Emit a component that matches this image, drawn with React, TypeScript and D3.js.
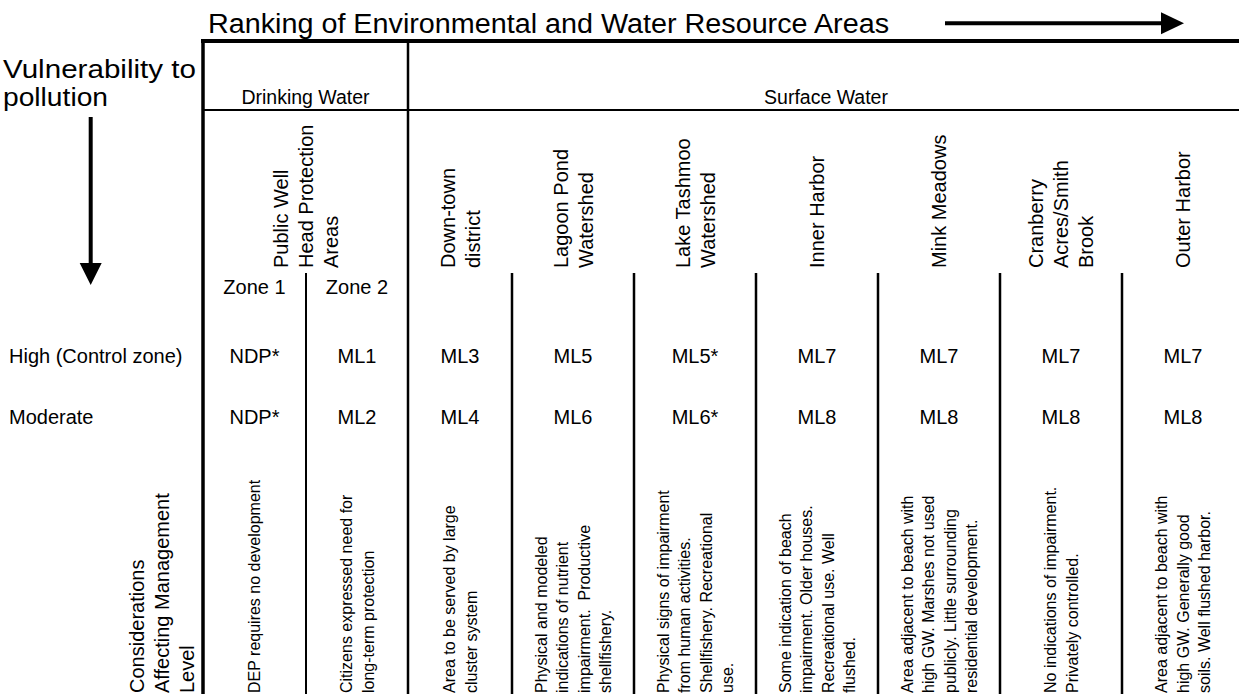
import React from "react";
import * as d3 from "d3";

// ---- data ----
const title = "Ranking of Environmental and Water Resource Areas";
const sideTitle = ["Vulnerability to", "pollution"];
const groups = ["Drinking Water", "Surface Water"];
const groupColumns = [2, 7];
const areaHeaders: { lines: string[]; from: number; to: number }[] = [
  { lines: ["Public Well", "Head Protection", "Areas"], from: 0, to: 1 },
  { lines: ["Down-town", "district"], from: 2, to: 2 },
  { lines: ["Lagoon Pond", "Watershed"], from: 3, to: 3 },
  { lines: ["Lake Tashmoo", "Watershed"], from: 4, to: 4 },
  { lines: ["Inner Harbor"], from: 5, to: 5 },
  { lines: ["Mink Meadows"], from: 6, to: 6 },
  { lines: ["Cranberry", "Acres/Smith", "Brook"], from: 7, to: 7 },
  { lines: ["Outer Harbor"], from: 8, to: 8 },
];
const zoneLabels = ["Zone 1", "Zone 2"];
const rowLabels = ["High (Control zone)", "Moderate"];
const highValues = ["NDP*", "ML1", "ML3", "ML5", "ML5*", "ML7", "ML7", "ML7", "ML7"];
const moderateValues = ["NDP*", "ML2", "ML4", "ML6", "ML6*", "ML8", "ML8", "ML8", "ML8"];
const considerationsLabel = ["Considerations", "Affecting Management", "Level"];
const considerations: string[][] = [
  ["DEP requires no development"],
  ["Citizens expressed need for", "long-term protection"],
  ["Area to be served by large", "cluster system"],
  ["Physical and modeled", "indications of nutrient", "impairment.  Productive", "shellfishery."],
  ["Physical signs of impairment", "from human activities.", "Shellfishery. Recreational", "use."],
  ["Some indication of beach", "impairment. Older houses.", "Recreational use. Well", "flushed."],
  ["Area adjacent to beach with", "high GW. Marshes not used", "publicly. Little surrounding", "residential development."],
  ["No indications of impairment.", "Privately controlled."],
  ["Area adjacent to beach with", "high GW. Generally good", "soils. Well flushed harbor."],
];

// ---- layout ----
const W = 1239;
const H = 694;
const FONT = "'Liberation Sans', Arial, Helvetica, sans-serif";
const tableLeft = 203;
const colWidths = [103, 102, 104, 122, 122, 122, 122, 122, 122];
const colEdges = [tableLeft, ...Array.from(d3.cumsum(colWidths), (c) => tableLeft + c)];
const colCenter = (i: number) => (colEdges[i] + colEdges[i + 1]) / 2;
const rowY = d3.scaleOrdinal<string, number>().domain(["zone", ...rowLabels]).range([293.5, 362.5, 423.5]);

function RotText({ cx, y, lines, size, gap }: { cx: number; y: number; lines: string[]; size: number; gap: number }) {
  const n = lines.length;
  return (
    <g>
      {lines.map((l, i) => {
        const x = cx + (i - (n - 1) / 2) * gap;
        return (
          <text
            key={i}
            transform={`translate(${x},${y}) rotate(-90)`}
            dy="0.36em"
            fontSize={size}
            textAnchor="start"
            fontFamily={FONT}
            style={{ whiteSpace: "pre" }}
          >
            {l}
          </text>
        );
      })}
    </g>
  );
}

export default function App() {
  const groupEdges = [colEdges[0], colEdges[groupColumns[0]], colEdges[groupColumns[0] + groupColumns[1]]];
  return (
    <svg width={W} height={H} style={{ position: "absolute", left: 0, top: 0, background: "#fff" }}>
      <rect width={W} height={H} fill="#fff" />
      {/* title and arrow */}
      <text x={208} y={33} fontSize={27} fontFamily={FONT} textLength={681} lengthAdjust="spacingAndGlyphs">{title}</text>
      <line x1={945} x2={1163} y1={23.3} y2={23.3} stroke="#000" strokeWidth={4} />
      <path d="M1161,12.3 L1184,23.3 L1161,34.3 Z" fill="#000" />
      {/* side title and arrow */}
      <text x={3} y={78} fontSize={26} fontFamily={FONT} textLength={193} lengthAdjust="spacingAndGlyphs">{sideTitle[0]}</text>
      <text x={3} y={105.5} fontSize={26} fontFamily={FONT} textLength={105} lengthAdjust="spacingAndGlyphs">{sideTitle[1]}</text>
      <line x1={90.7} x2={90.7} y1={117} y2={265} stroke="#000" strokeWidth={4} />
      <path d="M79.7,263 L101.7,263 L90.7,285 Z" fill="#000" />

      {/* frame lines */}
      <line x1={tableLeft - 2} x2={W} y1={41} y2={41} stroke="#000" strokeWidth={4} />
      <line x1={tableLeft} x2={tableLeft} y1={39} y2={H} stroke="#000" strokeWidth={3.5} />
      <line x1={tableLeft} x2={W} y1={110} y2={110} stroke="#000" strokeWidth={2} />
      <line x1={groupEdges[1]} x2={groupEdges[1]} y1={41} y2={H} stroke="#000" strokeWidth={2.5} />
      {colEdges.slice(1, -1).map((x, i) =>
        i === 1 ? null : (
          <line key={i} x1={x} x2={x} y1={273} y2={H} stroke="#000" strokeWidth={i === 0 ? 2 : 2.5} />
        )
      )}

      {/* group labels */}
      {groups.map((g, i) => (
        <text key={g} x={(groupEdges[i] + groupEdges[i + 1]) / 2} y={104} fontSize={19.5} textAnchor="middle" fontFamily={FONT}>
          {g}
        </text>
      ))}

      {/* area headers */}
      {areaHeaders.map((h, i) => (
        <RotText key={i} cx={(colEdges[h.from] + colEdges[h.to + 1]) / 2} y={268} lines={h.lines} size={20} gap={25} />
      ))}

      {/* zones */}
      {zoneLabels.map((z, i) => (
        <text key={z} x={colCenter(i)} y={rowY("zone")} fontSize={20} textAnchor="middle" fontFamily={FONT}>{z}</text>
      ))}

      {/* row labels */}
      {rowLabels.map((r) => (
        <text key={r} x={9} y={rowY(r)} fontSize={20} fontFamily={FONT}>{r}</text>
      ))}
      {highValues.map((v, i) => (
        <text key={"h" + i} x={colCenter(i)} y={rowY(rowLabels[0])} fontSize={20} textAnchor="middle" fontFamily={FONT}>{v}</text>
      ))}
      {moderateValues.map((v, i) => (
        <text key={"m" + i} x={colCenter(i)} y={rowY(rowLabels[1])} fontSize={20} textAnchor="middle" fontFamily={FONT}>{v}</text>
      ))}

      {/* considerations */}
      <RotText cx={161.7} y={693} lines={considerationsLabel} size={20} gap={25} />
      {considerations.map((c, i) => (
        <RotText key={"c" + i} cx={colCenter(i)} y={693} lines={c} size={16} gap={21.5} />
      ))}
    </svg>
  );
}
